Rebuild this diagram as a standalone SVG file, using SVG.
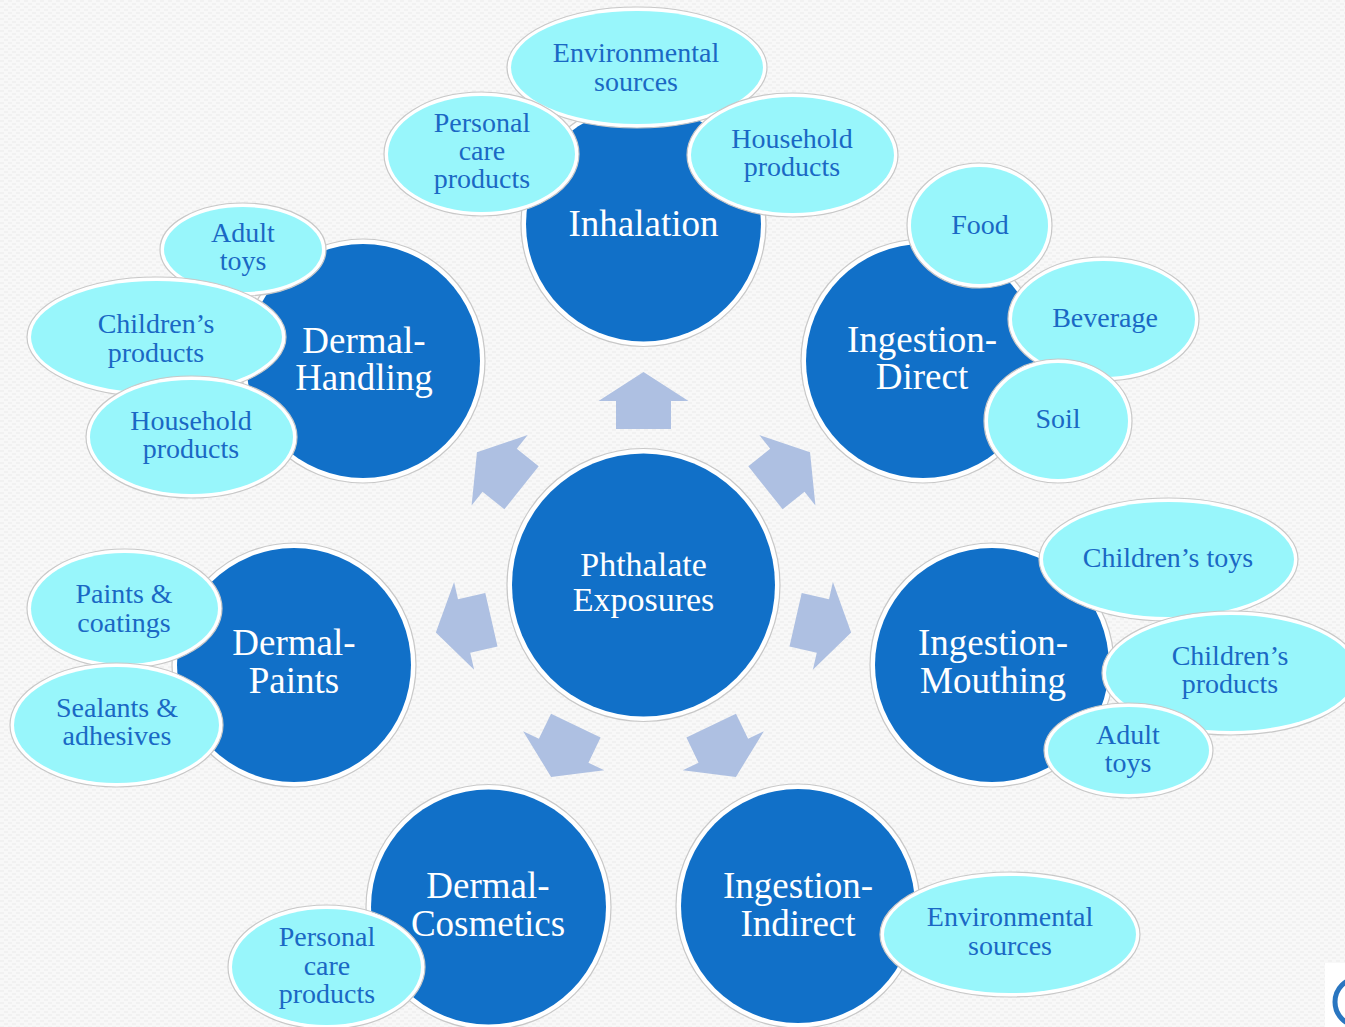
<svg xmlns="http://www.w3.org/2000/svg" xmlns:xlink="http://www.w3.org/1999/xlink" width="1345" height="1027" viewBox="0 0 1345 1027">
<style>
.halo{fill:#ffffff;stroke:#c8c8c8;stroke-width:1.2}
.dk{fill:#1170c8}
.lt{fill:#98f6fb}
.arr{fill:#aec0e2}
.big{font-family:"Liberation Serif","Times New Roman",serif;font-size:37px;fill:#ffffff;text-anchor:middle}
.ctr{font-family:"Liberation Serif","Times New Roman",serif;font-size:34px;fill:#ffffff;text-anchor:middle}
.sm{font-family:"Liberation Serif","Times New Roman",serif;font-size:28px;fill:#1a68c4;text-anchor:middle}
</style>
<defs>
<pattern id="tex" width="8" height="6" patternUnits="userSpaceOnUse">
<rect width="8" height="6" fill="#f8f8f8"/>
<rect x="0" y="0" width="4" height="2" fill="#f1f1f1"/>
<rect x="4" y="3" width="4" height="2" fill="#f1f1f1"/>
</pattern>
<path id="arrow" d="M156,-27.5 L184,-27.5 L184,-45 L213,0 L184,45 L184,27.5 L156,27.5 Z"/>
</defs>
<rect width="1345" height="1027" fill="url(#tex)"/>

<g id="connectors" class="arr">
<use xlink:href="#arrow" href="#arrow" transform="translate(643.5,585) rotate(-90)"/>
<use xlink:href="#arrow" href="#arrow" transform="translate(643.5,585) rotate(-38.57)"/>
<use xlink:href="#arrow" href="#arrow" transform="translate(643.5,585) rotate(12.86)"/>
<use xlink:href="#arrow" href="#arrow" transform="translate(643.5,585) rotate(64.29)"/>
<use xlink:href="#arrow" href="#arrow" transform="translate(643.5,585) rotate(115.71)"/>
<use xlink:href="#arrow" href="#arrow" transform="translate(643.5,585) rotate(167.14)"/>
<use xlink:href="#arrow" href="#arrow" transform="translate(643.5,585) rotate(218.57)"/>
</g>

<g id="center">
<circle class="halo" cx="643.5" cy="585" r="136.5"/>
<circle class="dk" cx="643.5" cy="585" r="131.5"/>
<text class="ctr" x="643.5" y="576">Phthalate</text>
<text class="ctr" x="643.5" y="611">Exposures</text>
</g>

<g id="inhalation">
<circle class="halo" cx="643.5" cy="224" r="122.5"/>
<circle class="dk" cx="643.5" cy="224" r="117.5"/>
<text class="big" x="643.5" y="236">Inhalation</text>
</g>
<g id="dermal-handling">
<circle class="halo" cx="363" cy="361" r="122"/>
<circle class="dk" cx="363" cy="361" r="117"/>
<text class="big" x="364" y="353">Dermal-</text>
<text class="big" x="364" y="390">Handling</text>
</g>
<g id="ingestion-direct">
<circle class="halo" cx="923" cy="361" r="122"/>
<circle class="dk" cx="923" cy="361" r="117"/>
<text class="big" x="922" y="352">Ingestion-</text>
<text class="big" x="922" y="389">Direct</text>
</g>
<g id="dermal-paints">
<circle class="halo" cx="294" cy="665" r="122"/>
<circle class="dk" cx="294" cy="665" r="117"/>
<text class="big" x="294" y="655">Dermal-</text>
<text class="big" x="294" y="693">Paints</text>
</g>
<g id="ingestion-mouthing">
<circle class="halo" cx="992" cy="665" r="122"/>
<circle class="dk" cx="992" cy="665" r="117"/>
<text class="big" x="993" y="655">Ingestion-</text>
<text class="big" x="993" y="693">Mouthing</text>
</g>
<g id="dermal-cosmetics">
<circle class="halo" cx="488.5" cy="907" r="122.5"/>
<circle class="dk" cx="488.5" cy="907" r="117.5"/>
<text class="big" x="488" y="898">Dermal-</text>
<text class="big" x="488" y="936">Cosmetics</text>
</g>
<g id="ingestion-indirect">
<circle class="halo" cx="798" cy="906" r="122"/>
<circle class="dk" cx="798" cy="906" r="117"/>
<text class="big" x="798" y="898">Ingestion-</text>
<text class="big" x="798" y="936">Indirect</text>
</g>

<g id="inh-environmental">
<ellipse class="halo" cx="637" cy="67.5" rx="130" ry="60.5"/>
<ellipse class="lt" cx="637" cy="67.5" rx="126" ry="56.5"/>
<text class="sm" x="636" y="62">Environmental</text>
<text class="sm" x="636" y="91">sources</text>
</g>
<g id="inh-personal">
<ellipse class="halo" cx="481.5" cy="154" rx="97.5" ry="62"/>
<ellipse class="lt" cx="481.5" cy="154" rx="93.5" ry="58"/>
<text class="sm" x="482" y="132">Personal</text>
<text class="sm" x="482" y="160">care</text>
<text class="sm" x="482" y="188">products</text>
</g>
<g id="inh-household">
<ellipse class="halo" cx="792.5" cy="155" rx="105.5" ry="62"/>
<ellipse class="lt" cx="792.5" cy="155" rx="101.5" ry="58"/>
<text class="sm" x="792" y="148">Household</text>
<text class="sm" x="792" y="176">products</text>
</g>

<g id="id-food">
<ellipse class="halo" cx="979.5" cy="225.5" rx="72.5" ry="62.5"/>
<ellipse class="lt" cx="979.5" cy="225.5" rx="68.5" ry="58.5"/>
<text class="sm" x="980" y="234">Food</text>
</g>
<g id="id-beverage">
<ellipse class="halo" cx="1103.5" cy="319" rx="95.5" ry="62"/>
<ellipse class="lt" cx="1103.5" cy="319" rx="91.5" ry="58"/>
<text class="sm" x="1105" y="327">Beverage</text>
</g>
<g id="id-soil">
<ellipse class="halo" cx="1058" cy="421" rx="74" ry="62"/>
<ellipse class="lt" cx="1058" cy="421" rx="70" ry="58"/>
<text class="sm" x="1058" y="428">Soil</text>
</g>

<g id="dh-adult">
<ellipse class="halo" cx="243" cy="249.5" rx="83" ry="46.5"/>
<ellipse class="lt" cx="243" cy="249.5" rx="79" ry="42.5"/>
<text class="sm" x="243" y="242">Adult</text>
<text class="sm" x="243" y="270">toys</text>
</g>
<g id="dh-children">
<ellipse class="halo" cx="156.5" cy="337" rx="129.5" ry="60"/>
<ellipse class="lt" cx="156.5" cy="337" rx="125.5" ry="56"/>
<text class="sm" x="156" y="333">Children’s</text>
<text class="sm" x="156" y="362">products</text>
</g>
<g id="dh-household">
<ellipse class="halo" cx="191.5" cy="437" rx="105.5" ry="61"/>
<ellipse class="lt" cx="191.5" cy="437" rx="101.5" ry="57"/>
<text class="sm" x="191" y="430">Household</text>
<text class="sm" x="191" y="458">products</text>
</g>

<g id="dp-paints">
<ellipse class="halo" cx="124.5" cy="608.5" rx="97.5" ry="59.5"/>
<ellipse class="lt" cx="124.5" cy="608.5" rx="93.5" ry="55.5"/>
<text class="sm" x="124" y="603">Paints &amp;</text>
<text class="sm" x="124" y="632">coatings</text>
</g>
<g id="dp-sealants">
<ellipse class="halo" cx="116.5" cy="725" rx="106.5" ry="62"/>
<ellipse class="lt" cx="116.5" cy="725" rx="102.5" ry="58"/>
<text class="sm" x="117" y="717">Sealants &amp;</text>
<text class="sm" x="117" y="745">adhesives</text>
</g>

<g id="im-childtoys">
<ellipse class="halo" cx="1168.5" cy="559.5" rx="129.5" ry="61.5"/>
<ellipse class="lt" cx="1168.5" cy="559.5" rx="125.5" ry="57.5"/>
<text class="sm" x="1168" y="567">Children’s toys</text>
</g>
<g id="im-childproducts">
<ellipse class="halo" cx="1231" cy="673" rx="129" ry="62"/>
<ellipse class="lt" cx="1231" cy="673" rx="125" ry="58"/>
<text class="sm" x="1230" y="665">Children’s</text>
<text class="sm" x="1230" y="693">products</text>
</g>
<g id="im-adult">
<ellipse class="halo" cx="1128.5" cy="750.5" rx="84.5" ry="47.5"/>
<ellipse class="lt" cx="1128.5" cy="750.5" rx="80.5" ry="43.5"/>
<text class="sm" x="1128" y="744">Adult</text>
<text class="sm" x="1128" y="772">toys</text>
</g>

<g id="dc-personal">
<ellipse class="halo" cx="326.5" cy="967" rx="98.5" ry="62"/>
<ellipse class="lt" cx="326.5" cy="967" rx="94.5" ry="58"/>
<text class="sm" x="327" y="946">Personal</text>
<text class="sm" x="327" y="975">care</text>
<text class="sm" x="327" y="1003">products</text>
</g>

<g id="ii-environmental">
<ellipse class="halo" cx="1010" cy="934.5" rx="130" ry="62.5"/>
<ellipse class="lt" cx="1010" cy="934.5" rx="126" ry="58.5"/>
<text class="sm" x="1010" y="926">Environmental</text>
<text class="sm" x="1010" y="955">sources</text>
</g>

<g id="logo">
<rect x="1325" y="963" width="20" height="64" fill="#ffffff"/>
<circle cx="1359" cy="1002" r="24" fill="none" stroke="#2a76c0" stroke-width="5"/>
</g>
</svg>
